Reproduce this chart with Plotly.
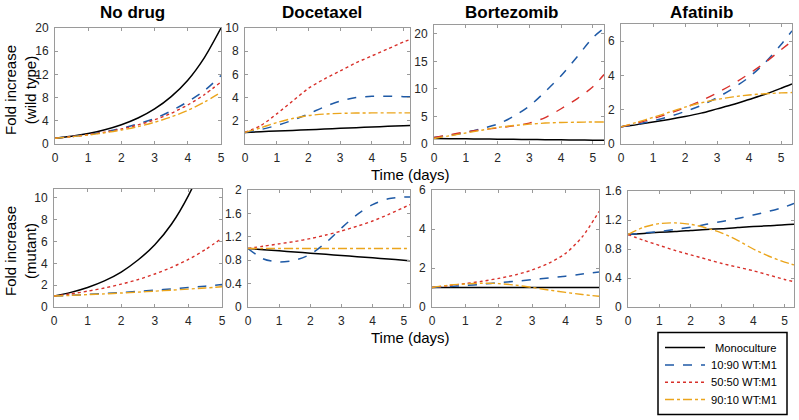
import plotly.graph_objects as go

# ---------------- data ----------------
T5 = [0, 0.5, 1, 1.5, 2, 2.5, 3, 3.5, 4, 4.5, 5]
T52 = T5 + [5.2]
T535 = T5 + [5.35]
T534 = T5 + [5.34]
T53 = T5 + [5.3]

series_names = ["Monoculture", "10:90 WT:M1", "50:50 WT:M1", "90:10 WT:M1"]
drugs = ["No drug", "Docetaxel", "Bortezomib", "Afatinib"]

# Wild type row
nodrug_wt_mono = [1, 1.35, 1.82, 2.46, 3.32, 4.48, 6.05, 8.17, 11.0, 14.9, 20.0]
nodrug_wt_1090 = [1, 1.28, 1.64, 2.1, 2.7, 3.46, 4.4, 5.7, 7.3, 9.2, 11.8]
nodrug_wt_5050 = [1, 1.27, 1.61, 2.04, 2.59, 3.29, 4.17, 5.3, 6.73, 8.5, 10.7]
nodrug_wt_9010 = [1, 1.25, 1.55, 1.94, 2.41, 3.0, 3.75, 4.67, 5.8, 7.24, 8.9]

doce_wt_mono = [1, 1.06, 1.12, 1.17, 1.23, 1.29, 1.35, 1.41, 1.46, 1.52, 1.58, 1.6]
doce_wt_1090 = [1, 1.25, 1.6, 2.05, 2.6, 3.2, 3.7, 4.0, 4.12, 4.12, 4.08, 4.07]
doce_wt_5050 = [1, 1.6, 2.6, 3.7, 4.8, 5.6, 6.3, 7.0, 7.6, 8.2, 8.8, 9.0]
doce_wt_9010 = [1, 1.4, 1.85, 2.2, 2.45, 2.58, 2.64, 2.67, 2.68, 2.68, 2.68, 2.68]

bort_wt_mono = [1, 0.97, 0.94, 0.91, 0.88, 0.85, 0.82, 0.79, 0.76, 0.73, 0.7, 0.69]
bort_wt_1090 = [1.2, 1.6, 2.1, 2.8, 3.6, 5.0, 6.9, 9.5, 12.4, 15.8, 19.3, 21.0]
bort_wt_5050 = [1.2, 1.7, 2.2, 2.6, 2.9, 3.3, 3.8, 4.8, 6.4, 8.2, 10.4, 12.6]
bort_wt_9010 = [1, 1.5, 2.0, 2.5, 3.0, 3.35, 3.6, 3.8, 3.9, 3.95, 4.0, 4.0]

afat_wt_mono = [1, 1.13, 1.28, 1.43, 1.6, 1.8, 2.05, 2.3, 2.6, 2.9, 3.25, 3.5]
afat_wt_1090 = [1, 1.15, 1.35, 1.6, 1.9, 2.25, 2.7, 3.25, 3.9, 4.75, 5.8, 6.6]
afat_wt_5050 = [1, 1.22, 1.48, 1.78, 2.12, 2.52, 2.98, 3.5, 4.1, 4.75, 5.5, 6.0]
afat_wt_9010 = [1, 1.27, 1.55, 1.85, 2.15, 2.4, 2.6, 2.75, 2.86, 2.93, 2.98, 3.0]

# Mutant row
nodrug_mu_mono = [1, 1.34, 1.79, 2.39, 3.2, 4.3, 5.7, 7.6, 10.2, 13.6, 18.2]
nodrug_mu_1090 = [1, 1.07, 1.15, 1.24, 1.33, 1.43, 1.54, 1.66, 1.78, 1.91, 2.05]
nodrug_mu_5050 = [1, 1.2, 1.45, 1.74, 2.09, 2.51, 3.02, 3.63, 4.36, 5.25, 6.3]
nodrug_mu_9010 = [1, 1.06, 1.13, 1.2, 1.28, 1.36, 1.45, 1.54, 1.64, 1.74, 1.85]

doce_mu_mono = [1, 0.98, 0.96, 0.94, 0.92, 0.9, 0.88, 0.86, 0.84, 0.82, 0.8, 0.79]
doce_mu_1090 = [1, 0.82, 0.77, 0.8, 0.9, 1.1, 1.35, 1.58, 1.75, 1.85, 1.88, 1.88]
doce_mu_5050 = [1, 1.04, 1.08, 1.12, 1.17, 1.23, 1.3, 1.38, 1.47, 1.58, 1.7, 1.75]
doce_mu_9010 = [1, 1, 1, 1, 1, 1, 1, 1, 1, 1, 1, 1]

bort_mu_mono = [1, 1, 1, 1, 1, 1, 1, 1, 1, 1, 1]
bort_mu_1090 = [1, 1.05, 1.1, 1.17, 1.25, 1.32, 1.4, 1.49, 1.58, 1.69, 1.8]
bort_mu_5050 = [1, 1.1, 1.2, 1.32, 1.47, 1.65, 1.9, 2.25, 2.75, 3.6, 4.9]
bort_mu_9010 = [1, 1.12, 1.18, 1.22, 1.2, 1.12, 1.0, 0.87, 0.75, 0.64, 0.55]

afat_mu_mono = [1, 1.015, 1.03, 1.04, 1.055, 1.07, 1.08, 1.095, 1.11, 1.12, 1.135, 1.14]
afat_mu_1090 = [1, 1.02, 1.04, 1.07, 1.1, 1.14, 1.18, 1.22, 1.27, 1.32, 1.38, 1.43]
afat_mu_5050 = [1, 0.92, 0.85, 0.78, 0.72, 0.66, 0.6, 0.55, 0.5, 0.44, 0.38, 0.35]
afat_mu_9010 = [1, 1.1, 1.15, 1.16, 1.14, 1.09, 1.02, 0.92, 0.8, 0.7, 0.62, 0.58]

# tick values
nodrug_wt_ticks = [0, 4, 8, 12, 16, 20]
doce_wt_ticks = [2, 4, 6, 8, 10]
bort_wt_ticks = [0, 5, 10, 15, 20]
afat_wt_ticks = [0, 2, 4, 6]
nodrug_mu_ticks = [0, 2, 4, 6, 8, 10]
doce_mu_ticks = [0, 0.4, 0.8, 1.2, 1.6, 2]
bort_mu_ticks = [0, 2, 4, 6]
afat_mu_ticks = [0, 0.4, 0.8, 1.2, 1.6]
x_ticks = [0, 1, 2, 3, 4, 5]

# ---------------- panel configuration ----------------
W, H = 799, 420
panels = [
    (T5, [nodrug_wt_mono, nodrug_wt_1090, nodrug_wt_5050, nodrug_wt_9010], [0, 5], [0, 20], nodrug_wt_ticks, [55, 221, 28, 144], "dot"),
    (T52, [doce_wt_mono, doce_wt_1090, doce_wt_5050, doce_wt_9010], [0, 5.2], [0, 10], doce_wt_ticks, [245, 410, 28, 144], "dot"),
    (T535, [bort_wt_mono, bort_wt_1090, bort_wt_5050, bort_wt_9010], [0, 5.35], [0, 21.6], bort_wt_ticks, [434, 604, 25, 144], "dash"),
    (T534, [afat_wt_mono, afat_wt_1090, afat_wt_5050, afat_wt_9010], [0, 5.34], [0, 7], afat_wt_ticks, [621, 792, 24, 144], "dash"),
    (T5, [nodrug_mu_mono, nodrug_mu_1090, nodrug_mu_5050, nodrug_mu_9010], [0, 5], [0, 10.8], nodrug_mu_ticks, [54, 222, 189, 307], "dot"),
    (T52, [doce_mu_mono, doce_mu_1090, doce_mu_5050, doce_mu_9010], [0, 5.2], [0, 2], doce_mu_ticks, [248, 410, 190, 307], "dot"),
    (T5, [bort_mu_mono, bort_mu_1090, bort_mu_5050, bort_mu_9010], [0, 5], [0, 6], bort_mu_ticks, [432, 599, 190, 307], "dot"),
    (T53, [afat_mu_mono, afat_mu_1090, afat_mu_5050, afat_mu_9010], [0, 5.3], [0, 1.6], afat_mu_ticks, [628, 794, 191, 307], "dot"),
]

colors = ["#000000", "#1f5aa6", "#d8302a", "#eba51c"]
dashes = ["solid", "dash", "dot", "dashdot"]
widths = [1.5, 1.5, 1.4, 1.4]

fig = go.Figure()
layout = dict(
    template="none",
    width=W, height=H, autosize=False,
    margin=dict(l=0, r=0, t=0, b=0, pad=0),
    paper_bgcolor="white", plot_bgcolor="white",
    font=dict(family="Liberation Sans, Arial, sans-serif", color="#262626"),
    showlegend=False,
)

axis_common = dict(
    showline=True, linecolor="#9a9a9a", linewidth=1, mirror="ticks",
    ticks="inside", ticklen=3, tickcolor="#9a9a9a", tickwidth=1,
    showgrid=False, zeroline=False, automargin=False,
    tickfont=dict(size=12, color="#262626"),
)

for i, (xs, ser, xr, yr, yt, box, reddash) in enumerate(panels):
    n = i + 1
    xa = "x" if n == 1 else f"x{n}"
    ya = "y" if n == 1 else f"y{n}"
    l, r, t, b = box
    for k, ys in enumerate(ser):
        dash = reddash if k == 2 else dashes[k]
        fig.add_trace(go.Scatter(
            x=xs, y=ys, mode="lines", name=series_names[k],
            line=dict(color=colors[k], width=widths[k], dash=dash, shape="spline", smoothing=0.8),
            xaxis=xa, yaxis=ya, showlegend=False, hoverinfo="skip",
        ))
    layout["xaxis" if n == 1 else f"xaxis{n}"] = dict(
        axis_common, domain=[l / W, r / W], range=xr, tickvals=x_ticks,
        anchor=ya, ticklabelstandoff=3,
    )
    layout["yaxis" if n == 1 else f"yaxis{n}"] = dict(
        axis_common, domain=[1 - b / H, 1 - t / H], range=yr, tickvals=yt,
        anchor=xa, ticklabelstandoff=3,
    )

fig.update_layout(**layout)

annotations = []
title_centers = [132, 322, 512, 701]
for name, cx in zip(drugs, title_centers):
    annotations.append(dict(text=f"<b>{name}</b>", x=cx / W, y=1 - 12 / H, xref="paper", yref="paper",
                            showarrow=False, font=dict(size=17, color="#000000"),
                            xanchor="center", yanchor="middle"))
annotations.append(dict(text="Fold increase<br>(wild type)", x=20 / W, y=1 - 90 / H, xref="paper", yref="paper",
                        showarrow=False, textangle=-90, font=dict(size=15, color="#000000"),
                        xanchor="center", yanchor="middle"))
annotations.append(dict(text="Fold increase<br>(mutant)", x=20 / W, y=1 - 251 / H, xref="paper", yref="paper",
                        showarrow=False, textangle=-90, font=dict(size=15, color="#000000"),
                        xanchor="center", yanchor="middle"))
for yy in [174, 337]:
    annotations.append(dict(text="Time (days)", x=410 / W, y=1 - yy / H, xref="paper", yref="paper",
                            showarrow=False, font=dict(size=15, color="#000000"),
                            xanchor="center", yanchor="middle"))

# ---------------- legend (drawn as box + sample lines + text) ----------------
shapes = [dict(type="rect", xref="paper", yref="paper",
               x0=658 / W, x1=787 / W, y0=1 - 414.5 / H, y1=1 - 332.5 / H,
               line=dict(color="#000000", width=1.5), fillcolor="white", layer="above")]
leg_rows = [347.5, 365, 382.3, 399.5]
for k, yy in enumerate(leg_rows):
    shapes.append(dict(type="line", xref="paper", yref="paper",
                       x0=665 / W, x1=705 / W, y0=1 - yy / H, y1=1 - yy / H,
                       line=dict(color=colors[k], width=widths[k], dash=dashes[k]), layer="above"))
    annotations.append(dict(text=series_names[k], x=779 / W, y=1 - yy / H, xref="paper", yref="paper",
                            showarrow=False, font=dict(size=11.2, color="#000000"),
                            xanchor="right", yanchor="middle"))

fig.update_layout(annotations=annotations, shapes=shapes)

fig.write_html("out.html", config={"displayModeBar": False},
               post_script="document.body.style.margin='0';document.body.style.overflow='hidden';")
